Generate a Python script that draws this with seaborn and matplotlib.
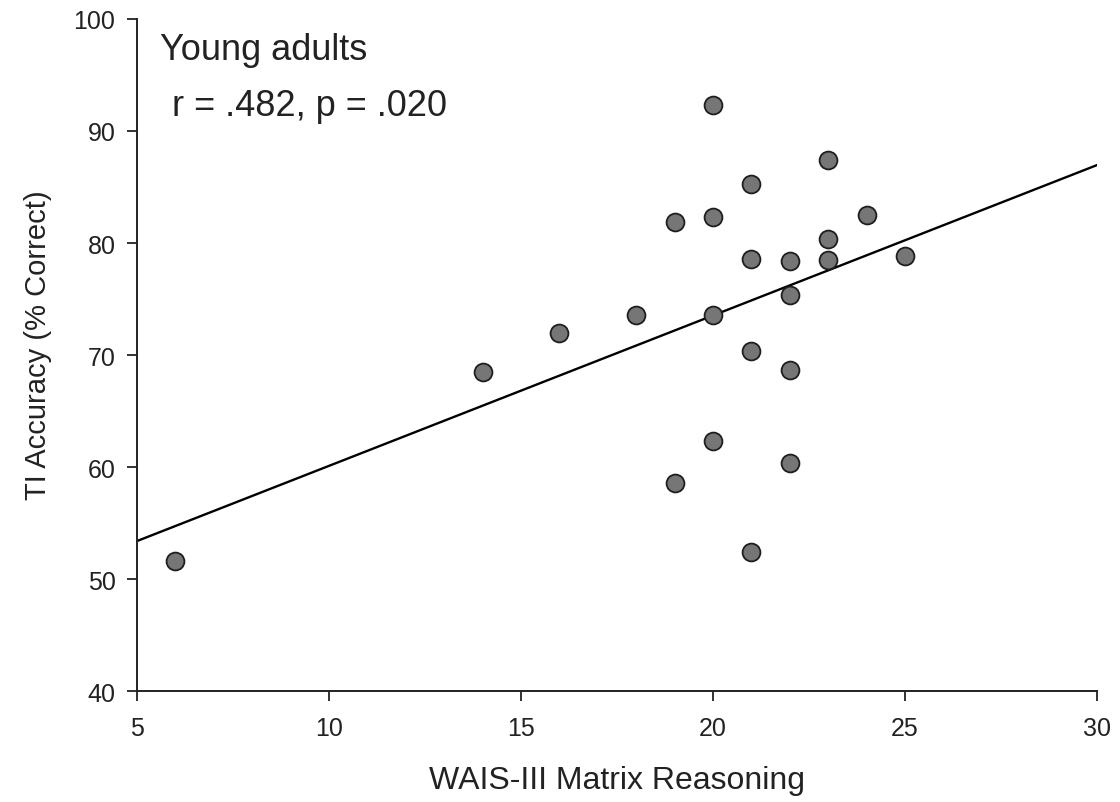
import matplotlib
matplotlib.use("Agg")
import matplotlib.pyplot as plt
import seaborn as sns
import pandas as pd

# WAIS-III Matrix Reasoning raw score and TI accuracy (% correct), young adults
matrix_reasoning = [6, 14, 16, 18, 19, 19, 20, 20, 20, 20, 21, 21, 21, 21,
                    22, 22, 22, 22, 23, 23, 23, 24, 25]
ti_accuracy = [51.6, 68.5, 72.0, 73.6, 81.9, 58.6, 92.3, 82.3, 73.6, 62.3,
               85.3, 78.6, 70.4, 52.4, 78.4, 75.4, 68.7, 60.4, 87.4, 80.4,
               78.5, 82.5, 78.8]

x_ticks = [5, 10, 15, 20, 25, 30]
y_ticks = [40, 50, 60, 70, 80, 90, 100]

group_label = "Young adults"
stats_label = "r = .482, p = .020"

df = pd.DataFrame({"WAIS-III Matrix Reasoning": matrix_reasoning,
                   "TI Accuracy (% Correct)": ti_accuracy})

sns.set_theme(style="ticks")
plt.rcParams["font.family"] = ["Liberation Sans", "DejaVu Sans"]

ink = "#222222"

fig = plt.figure(figsize=(11.2, 8.03), dpi=100)
ax = fig.add_axes([0.1223, 0.1382, 0.8572, 0.8369])
ax.set_xlim(5, 30)
ax.set_ylim(40, 100)

# scatter of participants plus least-squares line across the full x range
sns.regplot(data=df, x="WAIS-III Matrix Reasoning", y="TI Accuracy (% Correct)",
            ax=ax, ci=None, truncate=False,
            scatter_kws=dict(s=165, color="#767676", edgecolor="#1e1e1e",
                             linewidths=1.3, alpha=1, zorder=3),
            line_kws=dict(color="black", lw=1.7, zorder=2))

ax.set_xlim(5, 30)
ax.set_ylim(40, 100)
ax.set_xticks(x_ticks)
ax.set_yticks(y_ticks)
ax.tick_params(axis="both", labelsize=18, length=7, width=1.3,
               color=ink, labelcolor=ink, direction="out")
ax.tick_params(axis="x", pad=11)
ax.tick_params(axis="y", pad=8.5)

for side in ("left", "bottom"):
    ax.spines[side].set_linewidth(1.4)
    ax.spines[side].set_color(ink)
sns.despine(ax=ax)

ax.set_xlabel("WAIS-III Matrix Reasoning", fontsize=23, color=ink)
ax.xaxis.set_label_coords(0.5, -0.110)
ax.set_ylabel("TI Accuracy (% Correct)", fontsize=21, color=ink)
ax.yaxis.set_label_coords(-0.088, 0.516)

ax.text(0.024, 0.954, group_label, transform=ax.transAxes, fontsize=26,
        color=ink, ha="left", va="center")
ax.text(0.036, 0.872, stats_label, transform=ax.transAxes, fontsize=26,
        color=ink, ha="left", va="center")

fig.savefig("out.png", dpi=100, facecolor="white")
